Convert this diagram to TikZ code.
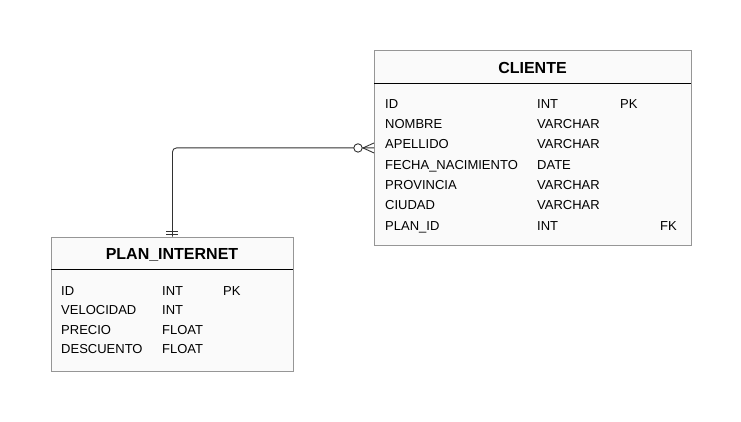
\documentclass[tikz,border=0pt]{standalone}
\usepackage{fontspec}
\setmainfont{Liberation Sans}
\usetikzlibrary{positioning, calc}
\definecolor{boxgray}{RGB}{150,150,150}
\definecolor{boxfill}{RGB}{250,250,250}
\definecolor{linegray}{RGB}{50,50,50}
\tikzset{
  tablebox/.style={draw=boxgray, fill=boxfill, line width=0.9pt, inner sep=0pt, anchor=north west},
  tabletitle/.style={font=\fontsize{16}{18}\selectfont\bfseries, anchor=base, inner sep=0pt},
  tablefield/.style={font=\fontsize{13}{15}\selectfont, anchor=base west, inner sep=0pt},
  headline/.style={line width=1.6pt, black},
  relline/.style={linegray, line width=0.9pt},
}

\begin{document}
\begin{tikzpicture}[x=1pt,y=-1pt]
\useasboundingbox (0,0) rectangle (741,422);

% ── CLIENTE table ─────────────────────────────────────────────────────────────
\node[tablebox, minimum width=317pt, minimum height=195pt] (cliente) at (374,50) {};
\node[tabletitle] (clienteTitle) at (532.5,73.3) {CLIENTE};
\draw[headline] (374,83.5) -- (691,83.5);
\foreach \nm/\ty [count=\i] in {ID/INT, NOMBRE/VARCHAR, APELLIDO/VARCHAR,
    FECHA\_NACIMIENTO/DATE, PROVINCIA/VARCHAR, CIUDAD/VARCHAR, PLAN\_ID/INT} {
  \node[tablefield] (cn\i) at (385, 108.3+20.3*\i-20.3) {\nm};
  \node[tablefield] (ct\i) at (537, 108.3+20.3*\i-20.3) {\ty};
}
\node[tablefield] (cpk) at (620,108.3) {PK};
\node[tablefield] (cfk) at (660,230) {FK};

% ── PLAN_INTERNET table ───────────────────────────────────────────────────────
\node[tablebox, minimum width=242pt, minimum height=134pt] (plan) at (51,236.5) {};
\node[tabletitle] (planTitle) at (172,259.3) {PLAN\_INTERNET};
\draw[headline] (51,269.5) -- (293,269.5);
\foreach \nm/\ty [count=\i] in {ID/INT, VELOCIDAD/INT, PRECIO/FLOAT, DESCUENTO/FLOAT} {
  \node[tablefield] (pn\i) at (61, 295+19.5*\i-19.5) {\nm};
  \node[tablefield] (pt\i) at (162, 295+19.5*\i-19.5) {\ty};
}
\node[tablefield] (ppk) at (223,295) {PK};

% ── Relationship: one PLAN_INTERNET to many CLIENTE ───────────────────────────
\draw[relline, rounded corners=4pt] (plan.north) |- (cliente.west);
% one and only one
\draw[relline] ($(plan.north)+(-6,-2)$) -- ($(plan.north)+(6,-2)$);
\draw[relline] ($(plan.north)+(-6,-5)$) -- ($(plan.north)+(6,-5)$);
% zero or many
\draw[relline] ($(cliente.west)+(-11,0)$) -- ($(cliente.west)+(0,-5)$);
\draw[relline] ($(cliente.west)+(-11,0)$) -- ($(cliente.west)+(0,5)$);
\draw[relline, fill=white] ($(cliente.west)+(-16,0)$) circle (4.2);

\end{tikzpicture}
\end{document}
